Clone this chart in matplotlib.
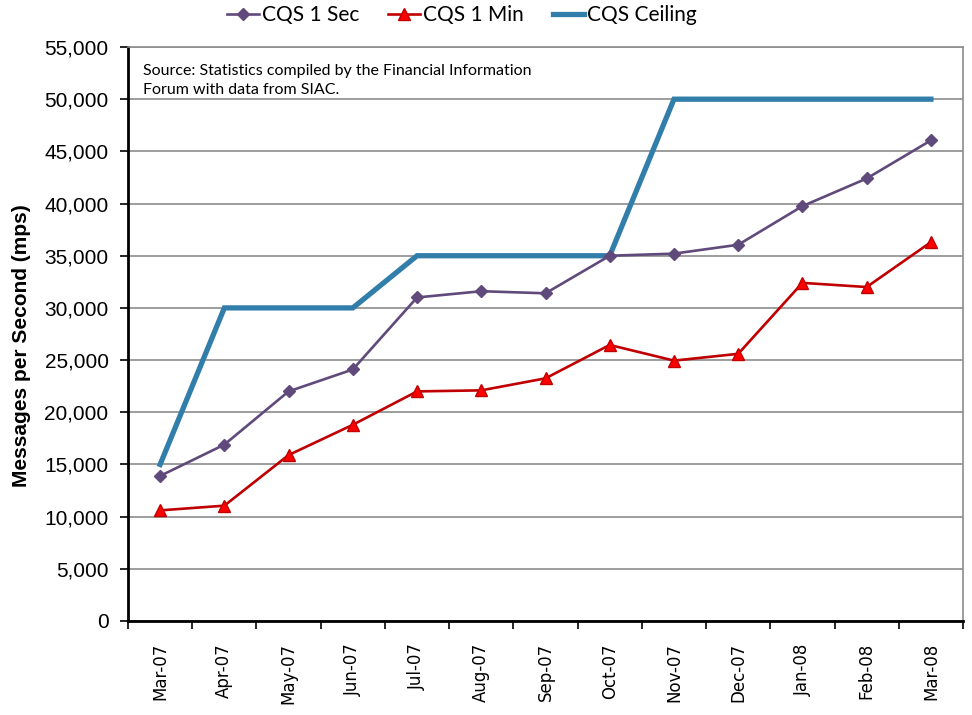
import matplotlib
matplotlib.use("Agg")
import matplotlib.pyplot as plt
from matplotlib.ticker import FuncFormatter, MultipleLocator, FixedLocator
import numpy as np

months = ["Mar-07", "Apr-07", "May-07", "Jun-07", "Jul-07", "Aug-07", "Sep-07",
          "Oct-07", "Nov-07", "Dec-07", "Jan-08", "Feb-08", "Mar-08"]
cqs_1sec = [13900, 16900, 22000, 24100, 31000, 31600, 31400, 35000, 35200, 36050, 39750, 42400, 46050]
cqs_1min = [10600, 11050, 15900, 18800, 22000, 22100, 23250, 26450, 24950, 25600, 32400, 32000, 36300]
cqs_ceiling = [15000, 30000, 30000, 30000, 35000, 35000, 35000, 35000, 50000, 50000, 50000, 50000, 50000]

fig = plt.figure(figsize=(9.72, 7.15), dpi=100)
ax = fig.add_axes([128/972, 1 - 621/715, (963-128)/972, (621-47)/715])

x = np.arange(len(months))
ax.plot(x, cqs_1sec, color="#604A7B", lw=1.9, marker="D", ms=6,
        markerfacecolor="#604A7B", markeredgecolor="#604A7B", label="CQS 1 Sec", zorder=4)
ax.plot(x, cqs_1min, color="#C00000", lw=1.9, marker="^", ms=8,
        markerfacecolor="#FF0000", markeredgecolor="#C00000", label="CQS 1 Min", zorder=4)
ax.plot(x, cqs_ceiling, color="#327EAA", lw=3.8, label="CQS Ceiling", zorder=3,
        solid_joinstyle="miter")

ax.set_xlim(-0.5, len(months) - 0.5)
ax.set_ylim(0, 55000)
ax.yaxis.set_major_locator(MultipleLocator(5000))
ax.yaxis.set_major_formatter(FuncFormatter(lambda v, p: f"{int(v):,}"))
ax.grid(axis="y", color="#8C8C8C", lw=1.2, zorder=0)
ax.set_axisbelow(True)

ax.set_xticks(x)
ax.set_xticklabels(months, rotation=90, family="DejaVu Sans", fontsize=12)
ax.xaxis.set_minor_locator(FixedLocator(np.arange(-0.5, len(months), 1.0)))
ax.tick_params(axis="x", which="major", length=0, pad=16)
ax.tick_params(axis="x", which="minor", length=6, width=1.2, direction="out")
ax.tick_params(axis="y", length=6, width=1.2, direction="out", pad=8)
for lab in ax.get_yticklabels():
    lab.set_family("Liberation Sans")
    lab.set_fontsize(15)

for s in ["left", "bottom"]:
    ax.spines[s].set_color("black")
    ax.spines[s].set_linewidth(2)
for s in ["top", "right"]:
    ax.spines[s].set_color("#8C8C8C")
    ax.spines[s].set_linewidth(1.2)

fig.text(22/972, 1 - 346/715, "Messages per Second (mps)", rotation=90, ha="center", va="center",
         fontsize=15, fontweight="bold", family="Liberation Sans")

fig.text(143/972, 1 - 64/715, "Source: Statistics compiled by the Financial Information\nForum with data from SIAC.",
         ha="left", va="top", fontsize=11.5, family="Lato", linespacing=1.45)

leg = fig.legend(loc="center", bbox_to_anchor=(462/972, 1 - 15/715), ncol=3, frameon=False,
                 prop={"family": "Lato", "size": 15}, handlelength=1.5, columnspacing=1.4,
                 handletextpad=0.15)

fig.savefig("out.png", dpi=100)
